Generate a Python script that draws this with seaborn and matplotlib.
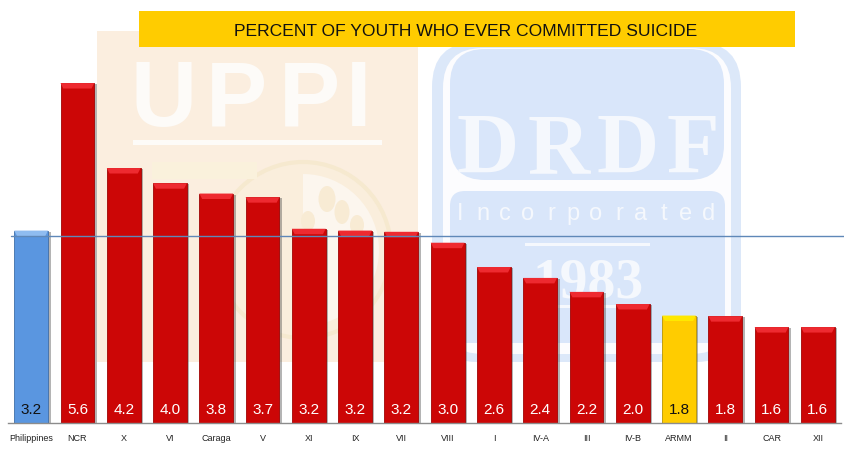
"""Bar chart of the percent of youth who ever committed suicide, by region."""
import matplotlib
matplotlib.use("Agg")
import matplotlib.patheffects as pe
import matplotlib.pyplot as plt
import pandas as pd
import seaborn as sns
from matplotlib.patches import Circle, Ellipse, FancyBboxPatch, Polygon, Rectangle, Wedge

regions = ["Philippines", "NCR", "X", "VI", "Caraga", "V", "XI", "IX", "VII",
           "VIII", "I", "IV-A", "III", "IV-B", "ARMM", "II", "CAR", "XII"]
heights = [3.17, 5.6, 4.2, 3.95, 3.78, 3.72, 3.2, 3.17, 3.15,
           2.97, 2.57, 2.39, 2.16, 1.96, 1.77, 1.76, 1.58, 1.58]
value_labels = ["3.2", "5.6", "4.2", "4.0", "3.8", "3.7", "3.2", "3.2", "3.2",
                "3.0", "2.6", "2.4", "2.2", "2.0", "1.8", "1.8", "1.6", "1.6"]
national_line = 3.08
title = "PERCENT OF YOUTH WHO EVER COMMITTED SUICIDE"

RED = "#cc0606"
BLUE = "#5a96e0"
YELLOW = "#ffcc00"
BEVEL = {RED: "#ee2a30", BLUE: "#8fbcf0", YELLOW: "#ffe800"}
EDGE = {RED: "#a00404", BLUE: "#3f6ea8", YELLOW: "#b89400"}

sns.set_theme(style="white")
plt.rcParams["font.family"] = ["Liberation Sans"]

fig = plt.figure(figsize=(8.44, 4.52), dpi=100)


def watermarks():
    # pale logos behind the bars, drawn in pixel coordinates
    bg = fig.add_axes([0, 0, 1, 1], zorder=0)
    bg.set_xlim(0, 844)
    bg.set_ylim(452, 0)
    bg.axis("off")

    # left logo
    peach = "#fbeedf"
    soft = "#fdfbf8"
    bg.add_patch(Rectangle((97, 32), 321, 331, color=peach, lw=0))
    for letter, x in zip("UPPI", [164, 236, 309, 359]):
        bg.text(x, 126, letter, fontsize=66, color=soft, ha="center",
                va="baseline", weight="bold")
    bg.add_patch(Rectangle((133, 141), 249, 5, color=soft, lw=0))
    bg.add_patch(Circle((303, 251), 88, fc="#faeedc", ec="#f6e9cf", lw=3))
    bg.add_patch(Wedge((303, 251), 76, -90, 90, fc="#fcf6ee", ec="none"))
    bg.add_patch(Rectangle((152, 163), 105, 17, color="#faf1dc", lw=0))
    for x, y, w, h in [(327, 200, 17, 26), (342, 213, 15, 24),
                       (308, 222, 14, 20), (357, 226, 14, 20)]:
        bg.add_patch(Ellipse((x, y), w, h, color="#f8ebd4", lw=0))

    # right logo
    pale = "#d9e6fa"
    frame = "#fcfcfe"
    letters = "#f5f8fd"
    bg.add_patch(FancyBboxPatch((444, 55), 285, 296,
                                boxstyle="round,pad=12,rounding_size=45",
                                fc="#dce8f9", ec="none"))
    bg.add_patch(FancyBboxPatch((452, 58), 270, 288,
                                boxstyle="round,pad=9,rounding_size=40",
                                fc=frame, ec="none"))
    bg.add_patch(FancyBboxPatch((456, 56), 262, 119,
                                boxstyle="round,pad=6,rounding_size=35",
                                fc=pale, ec="none"))
    bg.add_patch(FancyBboxPatch((450, 192), 275, 152,
                                boxstyle="round,pad=0,rounding_size=15",
                                fc=pale, ec="none"))
    for letter, x in zip("DRDF", [488, 559, 628, 693]):
        bg.text(x, 173, letter, fontsize=62, color=letters, ha="center",
                va="baseline", family="Liberation Serif", weight="bold")
    for letter, x in zip("Incorporated", [460, 483, 505, 528, 551, 573, 596,
                                          619, 641, 664, 686, 709]):
        bg.text(x, 220, letter, fontsize=17, color=letters, ha="center",
                va="baseline")
    bg.add_patch(Rectangle((525, 244), 125, 3, color=letters, lw=0))
    bg.text(588, 298, "1983", fontsize=40, color=letters, ha="center",
            va="baseline", family="Liberation Serif", weight="bold")
    bg.add_patch(Rectangle((525, 306), 125, 3, color=letters, lw=0))

    # title strip
    bg.add_patch(Rectangle((139, 12), 656, 36, color=YELLOW, lw=0))
    bg.text(466, 31.5, title, fontsize=12.6, color="#111111", ha="center",
            va="center")


def bars():
    df = pd.DataFrame({"region": regions, "height": heights})
    palette = {name: RED for name in regions}
    palette["Philippines"] = BLUE
    palette["ARMM"] = YELLOW

    ax = fig.add_axes([8 / 844, 28 / 452, 833 / 844, 414 / 452], zorder=1)
    ax.patch.set_alpha(0)
    sns.barplot(data=df, x="region", y="height", hue="region", palette=palette,
                width=0.73, legend=False, saturation=1, ax=ax)
    ax.set_xlim(-0.5, 17.5)
    ax.set_ylim(0, 414 / 60.7)

    shadow = [pe.SimplePatchShadow(offset=(1.8, -0.8), shadow_rgbFace="#444444",
                                   alpha=0.4), pe.Normal()]
    for bar, name in zip(ax.patches, regions):
        color = palette[name]
        bar.set_edgecolor(EDGE[color])
        bar.set_linewidth(0.6)
        bar.set_path_effects(shadow)
        # lighter bevel along the top of each bar
        x0 = bar.get_x()
        x1 = x0 + bar.get_width()
        top = bar.get_height()
        ax.add_patch(Polygon([(x0, top), (x1, top), (x1 - 0.06, top - 0.09),
                              (x0 + 0.06, top - 0.09)], closed=True,
                             fc=BEVEL[color], ec="none", zorder=3))

    for i, label in enumerate(value_labels):
        dark = regions[i] in ("Philippines", "ARMM")
        ax.text(i, 0.23, label, fontsize=11, ha="center", va="center",
                color="#111111" if dark else "white", zorder=4)

    ax.axhline(national_line, xmin=3 / 833, xmax=836 / 833, color="#5f88b8",
               lw=1, zorder=5, clip_on=False)

    sns.despine(ax=ax, left=True, top=True, right=True)
    ax.spines["bottom"].set_color("#8c8c8c")
    ax.spines["bottom"].set_linewidth(1)
    ax.set_xlabel("")
    ax.set_ylabel("")
    ax.set_yticks([])
    ax.tick_params(axis="x", length=0, pad=7, labelsize=6.5, colors="#222222")


def main():
    watermarks()
    bars()
    fig.savefig("out.png", dpi=100)


if __name__ == "__main__":
    main()
